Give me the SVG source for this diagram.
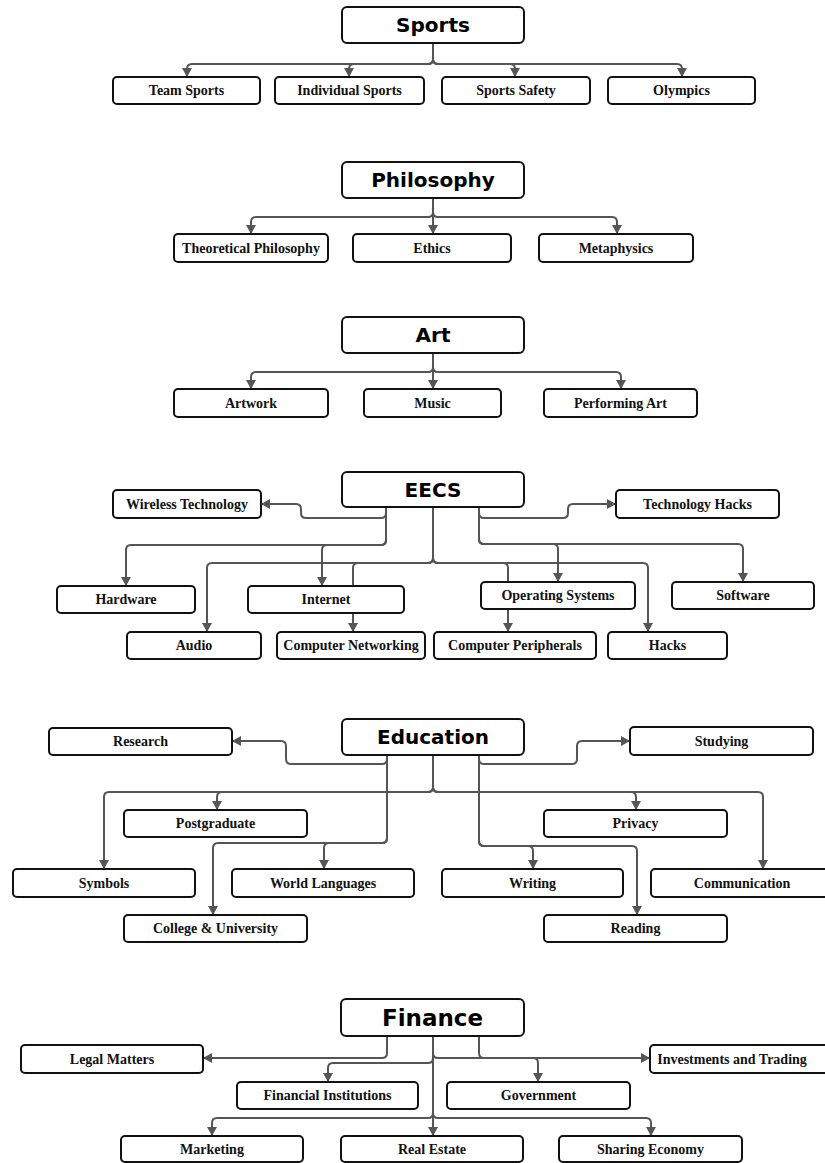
<svg xmlns="http://www.w3.org/2000/svg" width="825" height="1163" viewBox="0 0 825 1163">
<defs>
<marker id="arr" markerUnits="userSpaceOnUse" markerWidth="11" markerHeight="11" refX="9" refY="5" orient="auto">
<path d="M0,0 L9,5 L0,10 z" fill="#555"/>
</marker>
<style>
.root rect{fill:#fff;stroke:#111;stroke-width:2}
.root text{font-family:"DejaVu Sans",sans-serif;font-weight:bold;font-size:20px;fill:#000;text-anchor:middle;dominant-baseline:central}
.n rect{fill:#fff;stroke:#111;stroke-width:2}
.n text{font-family:"Liberation Serif",serif;font-weight:bold;font-size:14px;fill:#111;text-anchor:middle;dominant-baseline:central}
#connectors path{fill:none;stroke:#555;stroke-width:2;marker-end:url(#arr)}
</style>
</defs>
<rect width="825" height="1163" fill="#fff"/>
<g id="connectors">
<!-- Sports -->
<path d="M433 43 V59 Q433 64 428 64 H192 Q187 64 187 69 V77"/>
<path d="M433 43 V59 Q433 64 428 64 H354 Q349 64 349 69 V77"/>
<path d="M433 43 V59 Q433 64 438 64 H510 Q515 64 515 69 V77"/>
<path d="M433 43 V59 Q433 64 438 64 H677 Q682 64 682 69 V77"/>
<!-- Philosophy -->
<path d="M433 198 V212 Q433 217 428 217 H256 Q251 217 251 222 V234"/>
<path d="M433 198 V234"/>
<path d="M433 198 V212 Q433 217 438 217 H612 Q617 217 617 222 V234"/>
<!-- Art -->
<path d="M433 353 V367 Q433 372 428 372 H256 Q251 372 251 377 V389"/>
<path d="M433 353 V389"/>
<path d="M433 353 V367 Q433 372 438 372 H616 Q621 372 621 377 V389"/>
<!-- EECS -->
<path d="M386 507 V513 Q386 518 381 518 H306 Q301 518 301 513 V509 Q301 504 296 504 H261"/>
<path d="M479 507 V513 Q479 518 484 518 H563 Q568 518 568 513 V509 Q568 504 573 504 H616"/>
<path d="M386 507 V540 Q386 545 381 545 H131 Q126 545 126 550 V586"/>
<path d="M386 507 V540 Q386 545 381 545 H327 Q322 545 322 550 V586"/>
<path d="M433 507 V558 Q433 563 428 563 H212 Q207 563 207 568 V632"/>
<path d="M433 507 V558 Q433 563 428 563 H358 Q353 563 353 568 V632"/>
<path d="M433 507 V558 Q433 563 438 563 H503 Q508 563 508 568 V632"/>
<path d="M433 507 V558 Q433 563 438 563 H643 Q648 563 648 568 V632"/>
<path d="M479 507 V539 Q479 544 484 544 H553 Q558 544 558 549 V582"/>
<path d="M479 507 V539 Q479 544 484 544 H738 Q743 544 743 549 V582"/>
<!-- Education -->
<path d="M387 755 V759 Q387 764 382 764 H291 Q286 764 286 759 V746 Q286 741 281 741 H232"/>
<path d="M479 755 V759 Q479 764 484 764 H572 Q577 764 577 759 V746 Q577 741 582 741 H630"/>
<path d="M433 755 V787 Q433 792 428 792 H109 Q104 792 104 797 V869"/>
<path d="M433 755 V787 Q433 792 428 792 H222 Q217 792 217 797 V810"/>
<path d="M433 755 V787 Q433 792 438 792 H631 Q636 792 636 797 V810"/>
<path d="M433 755 V787 Q433 792 438 792 H758 Q763 792 763 797 V869"/>
<path d="M387 755 V838 Q387 843 382 843 H329 Q324 843 324 848 V869"/>
<path d="M387 755 V838 Q387 843 382 843 H218 Q213 843 213 848 V915"/>
<path d="M479 755 V841 Q479 846 484 846 H528 Q533 846 533 851 V869"/>
<path d="M479 755 V841 Q479 846 484 846 H632 Q637 846 637 851 V915"/>
<!-- Finance -->
<path d="M387 1036 V1053 Q387 1058 382 1058 H203"/>
<path d="M479 1036 V1053 Q479 1058 484 1058 H650"/>
<path d="M433 1036 V1058 Q433 1063 428 1063 H333 Q328 1063 328 1068 V1082"/>
<path d="M433 1036 V1053 Q433 1058 438 1058 H533 Q538 1058 538 1063 V1082"/>
<path d="M433 1036 V1113 Q433 1118 428 1118 H217 Q212 1118 212 1123 V1136"/>
<path d="M433 1036 V1136"/>
<path d="M433 1036 V1113 Q433 1118 438 1118 H646 Q651 1118 651 1123 V1136"/>
</g>

<!-- Sports -->
<g id="sports" class="root"><rect x="342" y="7" width="182" height="36" rx="5"/><text x="433" y="25">Sports</text></g>
<g id="team-sports" class="n"><rect x="113" y="77" width="147" height="27" rx="4"/><text x="186.5" y="90.5">Team Sports</text></g>
<g id="individual-sports" class="n"><rect x="275" y="77" width="149" height="27" rx="4"/><text x="349.5" y="90.5">Individual Sports</text></g>
<g id="sports-safety" class="n"><rect x="442" y="77" width="148" height="27" rx="4"/><text x="516" y="90.5">Sports Safety</text></g>
<g id="olympics" class="n"><rect x="608" y="77" width="147" height="27" rx="4"/><text x="681.5" y="90.5">Olympics</text></g>

<!-- Philosophy -->
<g id="philosophy" class="root"><rect x="342" y="162" width="182" height="36" rx="5"/><text x="433" y="180">Philosophy</text></g>
<g id="theoretical-philosophy" class="n"><rect x="174" y="234" width="154" height="28" rx="4"/><text x="251" y="248">Theoretical Philosophy</text></g>
<g id="ethics" class="n"><rect x="353" y="234" width="158" height="28" rx="4"/><text x="432" y="248">Ethics</text></g>
<g id="metaphysics" class="n"><rect x="539" y="234" width="154" height="28" rx="4"/><text x="616" y="248">Metaphysics</text></g>

<!-- Art -->
<g id="art" class="root"><rect x="342" y="317" width="182" height="36" rx="5"/><text x="433" y="335">Art</text></g>
<g id="artwork" class="n"><rect x="174" y="389" width="154" height="28" rx="4"/><text x="251" y="403">Artwork</text></g>
<g id="music" class="n"><rect x="364" y="389" width="137" height="28" rx="4"/><text x="432.5" y="403">Music</text></g>
<g id="performing-art" class="n"><rect x="544" y="389" width="153" height="28" rx="4"/><text x="620.5" y="403">Performing Art</text></g>

<!-- EECS -->
<g id="eecs" class="root"><rect x="342" y="472" width="182" height="35" rx="5"/><text x="433" y="489.5">EECS</text></g>
<g id="wireless-technology" class="n"><rect x="113" y="490" width="148" height="28" rx="4"/><text x="187" y="504">Wireless Technology</text></g>
<g id="technology-hacks" class="n"><rect x="616" y="490" width="163" height="28" rx="4"/><text x="697.5" y="504">Technology Hacks</text></g>
<g id="hardware" class="n"><rect x="57" y="586" width="138" height="27" rx="4"/><text x="126" y="599.5">Hardware</text></g>
<g id="internet" class="n"><rect x="248" y="586" width="156" height="27" rx="4"/><text x="326" y="599.5">Internet</text></g>
<g id="operating-systems" class="n"><rect x="481" y="582" width="154" height="27" rx="4"/><text x="558" y="595.5">Operating Systems</text></g>
<g id="software" class="n"><rect x="672" y="582" width="142" height="27" rx="4"/><text x="743" y="595.5">Software</text></g>
<g id="audio" class="n"><rect x="127" y="632" width="134" height="27" rx="4"/><text x="194" y="645.5">Audio</text></g>
<g id="computer-networking" class="n"><rect x="277" y="632" width="148" height="27" rx="4"/><text x="351" y="645.5">Computer Networking</text></g>
<g id="computer-peripherals" class="n"><rect x="434" y="632" width="162" height="27" rx="4"/><text x="515" y="645.5">Computer Peripherals</text></g>
<g id="hacks" class="n"><rect x="608" y="632" width="119" height="27" rx="4"/><text x="667.5" y="645.5">Hacks</text></g>

<!-- Education -->
<g id="education" class="root"><rect x="342" y="719" width="182" height="36" rx="5"/><text x="433" y="737">Education</text></g>
<g id="research" class="n"><rect x="49" y="728" width="183" height="27" rx="4"/><text x="140.5" y="741.5">Research</text></g>
<g id="studying" class="n"><rect x="630" y="727" width="183" height="28" rx="4"/><text x="721.5" y="741">Studying</text></g>
<g id="postgraduate" class="n"><rect x="124" y="810" width="183" height="27" rx="4"/><text x="215.5" y="823.5">Postgraduate</text></g>
<g id="privacy" class="n"><rect x="544" y="810" width="183" height="27" rx="4"/><text x="635.5" y="823.5">Privacy</text></g>
<g id="symbols" class="n"><rect x="13" y="869" width="182" height="28" rx="4"/><text x="104" y="883">Symbols</text></g>
<g id="world-languages" class="n"><rect x="232" y="869" width="182" height="28" rx="4"/><text x="323" y="883">World Languages</text></g>
<g id="writing" class="n"><rect x="442" y="869" width="181" height="28" rx="4"/><text x="532.5" y="883">Writing</text></g>
<g id="communication" class="n"><rect x="651" y="869" width="182" height="28" rx="4"/><text x="742" y="883">Communication</text></g>
<g id="college-university" class="n"><rect x="124" y="915" width="183" height="27" rx="4"/><text x="215.5" y="928.5">College &amp; University</text></g>
<g id="reading" class="n"><rect x="544" y="915" width="183" height="27" rx="4"/><text x="635.5" y="928.5">Reading</text></g>

<!-- Finance -->
<g id="finance" class="root"><rect x="341" y="999" width="183" height="37" rx="5"/><text x="432.5" y="1017.5" style="font-size:23px">Finance</text></g>
<g id="legal-matters" class="n"><rect x="21" y="1045" width="182" height="28" rx="4"/><text x="112" y="1059">Legal Matters</text></g>
<g id="investments-trading" class="n"><rect x="650" y="1045" width="183" height="28" rx="4"/><text x="732" y="1059">Investments and Trading</text></g>
<g id="financial-institutions" class="n"><rect x="237" y="1082" width="181" height="27" rx="4"/><text x="327.5" y="1095.5">Financial Institutions</text></g>
<g id="government" class="n"><rect x="447" y="1082" width="183" height="27" rx="4"/><text x="538.5" y="1095.5">Government</text></g>
<g id="marketing" class="n"><rect x="121" y="1136" width="182" height="26" rx="4"/><text x="212" y="1149.5">Marketing</text></g>
<g id="real-estate" class="n"><rect x="341" y="1136" width="182" height="26" rx="4"/><text x="432" y="1149.5">Real Estate</text></g>
<g id="sharing-economy" class="n"><rect x="559" y="1136" width="183" height="26" rx="4"/><text x="650.5" y="1149.5">Sharing Economy</text></g>
</svg>
